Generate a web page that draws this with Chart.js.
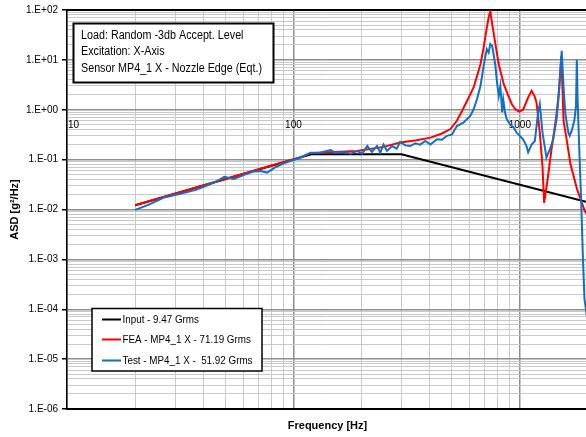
<!DOCTYPE html>
<html><head><meta charset="utf-8">
<script src="https://cdn.jsdelivr.net/npm/chart.js@4.4.0/dist/chart.umd.min.js"></script>
<style>html,body{margin:0;padding:0;overflow:hidden;background:#fff;width:586px;height:437px}canvas{display:block}</style>
</head><body>
<canvas id="c" width="590" height="437"></canvas>
<script>
// ---- data ----
const inputFreq = [20, 120, 300, 2000];
const inputAsd  = [0.0122, 0.128, 0.128, 0.014];

const feaFreq = [20, 50, 80, 107, 119, 150, 191, 250, 296, 350, 403, 450, 494, 527, 546, 580, 625, 670, 692, 715, 730, 741, 755, 780, 807, 849, 890, 922, 960, 995, 1034, 1088, 1127, 1160, 1185, 1225, 1259, 1280, 1320, 1380, 1450, 1490, 1525, 1560, 1600, 1675, 1792, 1936, 2000];
const feaAsd  = [0.0122, 0.041, 0.076, 0.11, 0.135, 0.142, 0.149, 0.18, 0.22, 0.245, 0.276, 0.33, 0.41, 0.6, 0.81, 1.4, 2.8, 8.2, 17.8, 45, 75, 94, 52, 20.7, 8.2, 3.25, 1.9, 1.29, 1.0, 0.92, 1.0, 1.76, 2.4, 1.9, 1.4, 0.35, 0.074, 0.0136, 0.034, 0.16, 0.75, 2.5, 12, 0.6, 0.3, 0.08, 0.025, 0.0093, 0.0075];

const testFreq = [20, 23, 26.6, 32, 37.4, 42, 46, 49.5, 54.6, 61, 66, 71.6, 76.5, 84, 90.6, 97, 107, 119, 131, 146, 153, 167, 179, 191, 201, 212, 222, 234, 242, 250, 259, 273, 286, 296, 312, 328, 345, 363, 382, 403, 430, 453, 476, 502, 527, 563, 604, 625, 646, 670, 692, 705, 715, 728, 741, 755, 768, 780, 793, 807, 820, 836, 845, 860, 876, 908, 940, 966, 1000, 1034, 1070, 1088, 1127, 1165, 1204, 1225, 1259, 1311, 1357, 1404, 1452, 1480, 1510, 1531, 1560, 1590, 1637, 1660, 1700, 1740, 1770, 1785, 1800, 1830, 1865, 1900, 1930, 2000];
const testAsd  = [0.0098, 0.0125, 0.0172, 0.021, 0.025, 0.031, 0.037, 0.045, 0.041, 0.050, 0.057, 0.059, 0.055, 0.072, 0.084, 0.094, 0.109, 0.138, 0.138, 0.155, 0.138, 0.142, 0.132, 0.149, 0.132, 0.187, 0.142, 0.187, 0.138, 0.20, 0.149, 0.187, 0.166, 0.225, 0.193, 0.187, 0.212, 0.20, 0.236, 0.20, 0.255, 0.25, 0.30, 0.32, 0.47, 0.55, 0.75, 1.02, 1.6, 3.0, 7.6, 12, 16.4, 14, 20.8, 19, 12, 7.6, 3.5, 1.9, 3.0, 0.88, 1.6, 0.88, 0.64, 0.5, 0.44, 0.35, 0.3, 0.255, 0.187, 0.14, 0.2, 0.236, 0.88, 1.29, 0.35, 0.11, 0.16, 0.255, 0.64, 1.6, 6, 15.2, 2.8, 0.81, 0.35, 0.3, 0.4, 0.6, 1.17, 10, 1.6, 0.16, 0.016, 0.001, 0.00016, 0.00005];

const seriesLabels = ["Input - 9.47 Grms", "FEA - MP4_1 X - 71.19 Grms", "Test - MP4_1 X -  51.92 Grms"];
const seriesColors = ["#000000", "#ff0000", "#1170c4"];
const xLabelValues = [10, 100, 1000];
const annotationLines = ["Load: Random -3db Accept. Level", "Excitation: X-Axis", "Sensor MP4_1 X - Nozzle Edge (Eqt.)"];
const xTitle = "Frequency [Hz]";
const yTitle = "ASD [g\u00B2/Hz]";

// ---- helpers ----
const FONT = "'Liberation Sans', Arial, Helvetica, sans-serif";
function isDecade(v){ const l = Math.log10(v); return Math.abs(l - Math.round(l)) < 1e-9; }
function logTickValues(minExp, maxExp, maxVal){
  const out = [];
  for (let e = minExp; e <= maxExp; e++) for (let m = 1; m <= 9; m++) {
    const v = parseFloat(m + 'e' + e);
    if (v <= maxVal * (1 + 1e-9)) out.push(v);
  }
  return out;
}
const xTickVals = logTickValues(1, 3, 2000);
const yTickVals = logTickValues(-6, 2, 100);
function sciLabel(v){ const e = Math.round(Math.log10(v)); return '1.E' + (e < 0 ? '-' : '+') + String(Math.abs(e)).padStart(2, '0'); }
function pts(fx, fy){ return fx.map((f, i) => ({x: f, y: fy[i]})); }

const gridOpts = {
  color: c => (c.tick && isDecade(c.tick.value)) ? '#8e8e8e' : '#c9c9c9',
  lineWidth: c => (c.tick && isDecade(c.tick.value)) ? 1.5 : 1,
  tickColor: c => (c.tick && isDecade(c.tick.value)) ? '#000' : 'rgba(0,0,0,0)',
  tickLength: 5
};

const decorPlugin = {
  id: 'decor',
  beforeDatasetsDraw(chart){
    const {ctx, chartArea: a, scales} = chart;
    ctx.save();
    // top border
    ctx.strokeStyle = '#000'; ctx.lineWidth = 2;
    ctx.beginPath(); ctx.moveTo(a.left, a.top); ctx.lineTo(a.right + 5, a.top); ctx.stroke();
    // x tick labels at y = 1 crossing
    const y1 = scales.y.getPixelForValue(1);
    ctx.fillStyle = '#000'; ctx.font = '10px ' + FONT; ctx.textBaseline = 'middle'; ctx.textAlign = 'center';
    xLabelValues.forEach(v => {
      const t = String(v); const w = ctx.measureText(t).width;
      let x = scales.x.getPixelForValue(v);
      x = Math.max(x, a.left + w / 2 + 1);
      ctx.fillText(t, x, y1 + 15.5);
    });
    ctx.restore();
  },
  afterDatasetsDraw(chart){
    const {ctx} = chart;
    ctx.save();
    // annotation box
    ctx.fillStyle = '#fff'; ctx.strokeStyle = '#000'; ctx.lineWidth = 2;
    ctx.fillRect(73.5, 23.5, 200, 59); ctx.strokeRect(73.5, 23.5, 200, 59);
    ctx.font = '12px ' + FONT; ctx.fillStyle = '#000'; ctx.textBaseline = 'middle'; ctx.textAlign = 'left';
    const wRef = ctx.measureText(annotationLines[2]).width;
    const s1 = Math.min(1, 181 / wRef);
    const ys = [35.5, 52, 68.5];
    annotationLines.forEach((t, i) => {
      ctx.save(); ctx.translate(81, ys[i]); ctx.scale(s1, 1); ctx.fillText(t, 0, 0); ctx.restore();
    });
    // legend box
    ctx.fillStyle = '#fff'; ctx.lineWidth = 1.5;
    ctx.fillRect(92, 308.5, 170, 62.5); ctx.strokeRect(92, 308.5, 170, 62.5);
    ctx.font = '11px ' + FONT;
    const wl = ctx.measureText(seriesLabels[2]).width;
    const s2 = Math.min(1, 130 / wl);
    const ly = [319.5, 339.5, 360.5];
    chart.data.datasets.forEach((ds, i) => {
      ctx.strokeStyle = ds.borderColor; ctx.lineWidth = 2;
      ctx.beginPath(); ctx.moveTo(102, ly[i]); ctx.lineTo(121, ly[i]); ctx.stroke();
      ctx.fillStyle = '#000';
      ctx.save(); ctx.translate(122.5, ly[i]); ctx.scale(s2, 1); ctx.fillText(ds.label, 0, 0); ctx.restore();
    });
    ctx.restore();
  }
};

new Chart(document.getElementById('c'), {
  type: 'line',
  data: {
    datasets: [
      {label: seriesLabels[0], data: pts(inputFreq, inputAsd), borderColor: seriesColors[0], borderWidth: 2, order: 3},
      {label: seriesLabels[1], data: pts(feaFreq, feaAsd), borderColor: seriesColors[1], borderWidth: 2, order: 2},
      {label: seriesLabels[2], data: pts(testFreq, testAsd), borderColor: seriesColors[2], borderWidth: 2, order: 1}
    ]
  },
  options: {
    responsive: false,
    animation: false,
    devicePixelRatio: 1,
    elements: {point: {radius: 0}, line: {tension: 0, fill: false}},
    layout: {padding: {left: 4, top: 10, right: 2, bottom: 0}},
    plugins: {legend: {display: false}, tooltip: {enabled: false}},
    scales: {
      x: {
        type: 'logarithmic', min: 10, max: 2000, position: 'bottom',
        afterBuildTicks: s => { s.ticks = xTickVals.map(v => ({value: v, major: isDecade(v)})); },
        afterFit: s => { s.height = 28; },
        ticks: {display: false},
        grid: Object.assign({}, gridOpts, {drawTicks: false}),
        border: {display: true, color: '#000', width: 2},
        title: {display: true, text: xTitle, color: '#000', font: {family: FONT, size: 11, weight: 'bold'}, padding: {top: 0, bottom: 4}}
      },
      y: {
        type: 'logarithmic', min: 1e-6, max: 100,
        afterBuildTicks: s => { s.ticks = yTickVals.map(v => ({value: v, major: isDecade(v)})); },
        afterFit: s => { s.width = 63; },
        ticks: {autoSkip: false, color: '#000', font: {family: FONT, size: 10}, padding: 4,
                callback: v => isDecade(v) ? sciLabel(v) : ''},
        grid: gridOpts,
        border: {display: true, color: '#000', width: 1.5},
        title: {display: true, text: yTitle, color: '#000', font: {family: FONT, size: 11, weight: 'bold'}, padding: {top: 4, bottom: 4}}
      }
    }
  },
  plugins: [decorPlugin]
});
</script>
</body></html>
